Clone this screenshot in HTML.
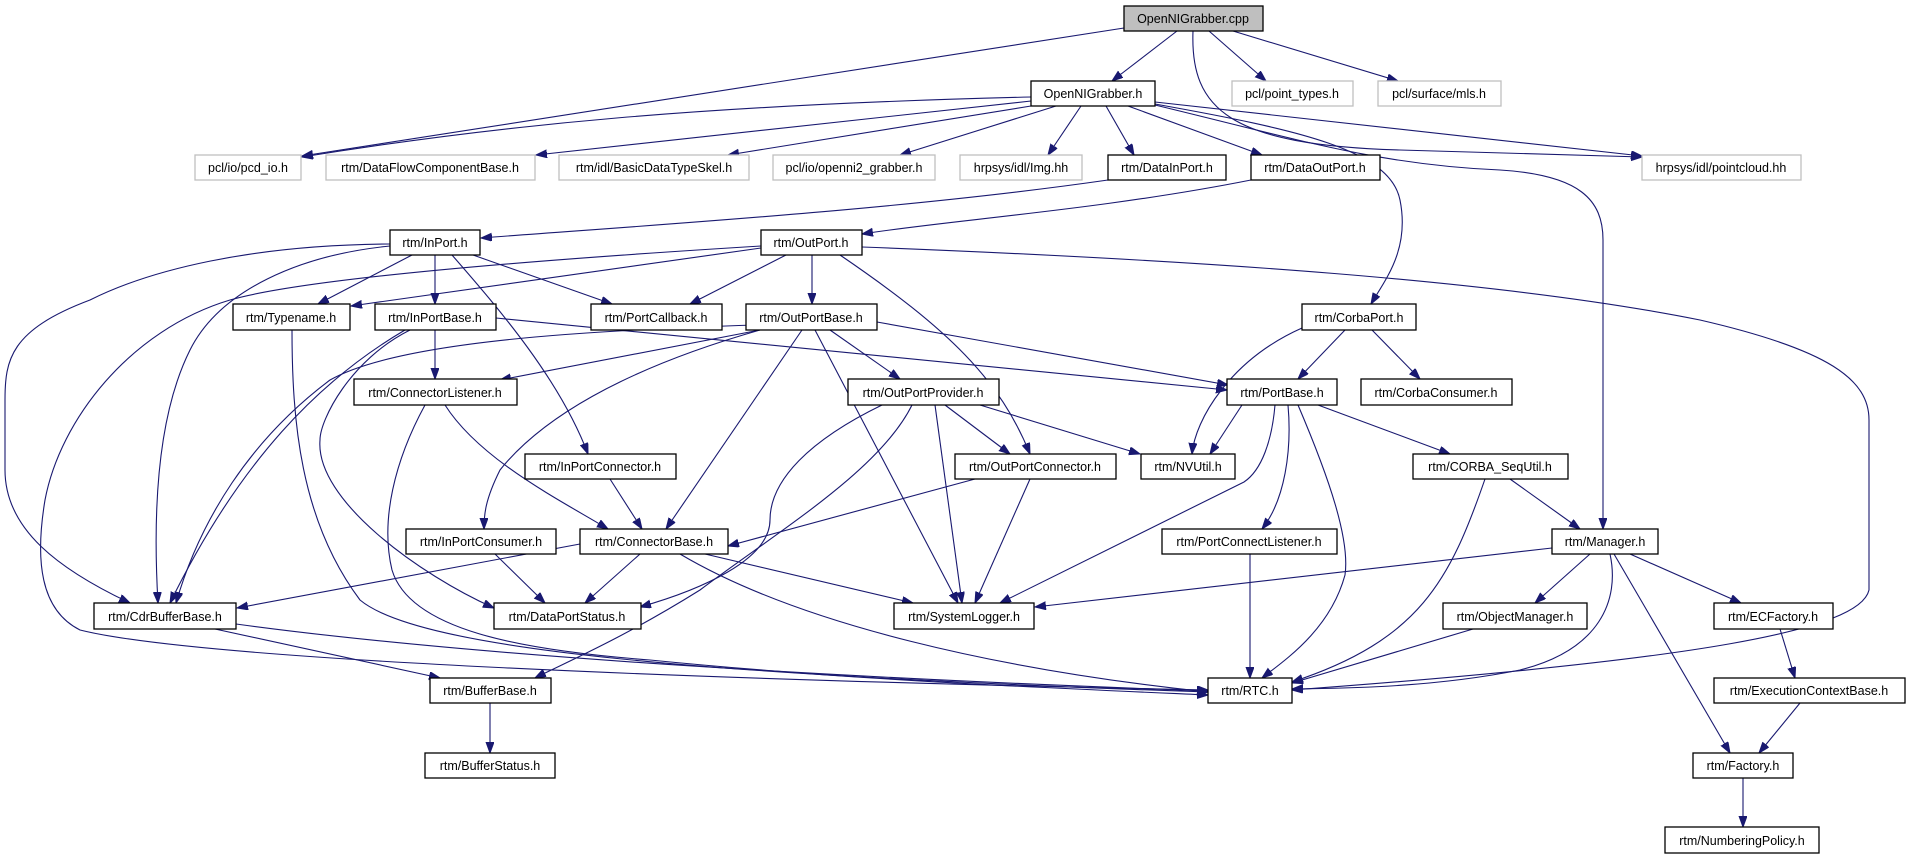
<!DOCTYPE html>
<html><head><meta charset="utf-8"><style>
html,body{margin:0;padding:0;background:#fff;}
svg{display:block;}
text{font-family:"Liberation Sans",sans-serif;font-size:12.5px;fill:#000;text-anchor:middle;}
.n{fill:#fff;stroke:#000;stroke-width:1.3;}
.g{fill:#fff;stroke:#bfbfbf;stroke-width:1.3;}
.e{fill:none;stroke:#191970;stroke-width:1.1;marker-end:url(#a);}
</style></head><body>
<svg width="1908" height="859" viewBox="0 0 1908 859" xmlns="http://www.w3.org/2000/svg">
<defs><marker id="a" markerUnits="userSpaceOnUse" markerWidth="12" markerHeight="10" refX="11" refY="4" orient="auto"><path d="M0,0 L11,4 L0,8 z" fill="#191970" stroke="#191970"/></marker></defs>
<g>
<path class="e" d="M1124,28 L302,156"/>
<path class="e" d="M1177,31 L1112,81"/>
<path class="e" d="M1209,31 L1266,81"/>
<path class="e" d="M1233,31 L1398,81"/>
<path class="e" d="M1193,31 C1190,110 1230,145 1400,150 L1642,157"/>
<path class="e" d="M1031,97 C700,105 500,125 302,157"/>
<path class="e" d="M1031,101 L536,155"/>
<path class="e" d="M1031,106 L728,155"/>
<path class="e" d="M1056,106 L900,155"/>
<path class="e" d="M1081,106 L1048,155"/>
<path class="e" d="M1106,106 L1134,155"/>
<path class="e" d="M1128,106 L1262,155"/>
<path class="e" d="M1155,102 L1642,156"/>
<path class="e" d="M1155,104 C1300,130 1390,150 1400,200 C1410,250 1385,280 1371,304"/>
<path class="e" d="M1155,105 C1300,140 1380,165 1500,170 C1580,175 1603,200 1603,240 L1603,529"/>
<path class="e" d="M1108,180 C900,210 650,225 481,238"/>
<path class="e" d="M1251,180 C1100,210 950,220 862,234"/>
<path class="e" d="M412,255 L318,304"/>
<path class="e" d="M435,255 L435,304"/>
<path class="e" d="M473,255 L612,304"/>
<path class="e" d="M452,255 C500,310 560,380 588,454"/>
<path class="e" d="M390,244 C250,245 150,270 90,300 C10,330 5,360 5,400 L5,470 C5,530 60,570 130,603"/>
<path class="e" d="M390,246 C300,255 220,290 190,350 C160,410 152,500 158,603"/>
<path class="e" d="M761,248 L351,306"/>
<path class="e" d="M786,255 L690,304"/>
<path class="e" d="M812,255 L812,304"/>
<path class="e" d="M840,255 C950,330 1000,380 1030,454"/>
<path class="e" d="M862,247 C1200,260 1500,280 1700,320 C1830,350 1869,380 1869,420 L1869,590 C1860,630 1700,660 1292,690"/>
<path class="e" d="M761,246 C500,262 300,280 230,300 C130,330 60,420 45,500 C35,560 40,610 80,630 C200,660 700,680 1208,690"/>
<path class="e" d="M292,330 C292,420 300,520 360,600 C420,650 700,675 1208,692"/>
<path class="e" d="M435,330 L435,379"/>
<path class="e" d="M496,318 L1227,390"/>
<path class="e" d="M405,330 C320,380 240,460 170,603"/>
<path class="e" d="M410,330 C350,360 320,420 320,440 C315,500 420,575 494,608"/>
<path class="e" d="M760,330 L500,380"/>
<path class="e" d="M755,325 C600,330 400,340 330,380 C250,440 200,520 176,603"/>
<path class="e" d="M760,330 C620,370 540,420 500,470 C485,500 484,515 484,529"/>
<path class="e" d="M802,330 L666,529"/>
<path class="e" d="M815,330 L958,603"/>
<path class="e" d="M830,330 L900,379"/>
<path class="e" d="M877,322 L1228,385"/>
<path class="e" d="M445,405 C480,460 560,500 608,529"/>
<path class="e" d="M425,405 C395,460 380,520 392,570 C410,630 520,650 650,660 C850,680 1050,688 1208,695"/>
<path class="e" d="M610,479 L642,529"/>
<path class="e" d="M495,554 L545,603"/>
<path class="e" d="M580,544 L237,608"/>
<path class="e" d="M640,554 L585,603"/>
<path class="e" d="M705,554 L913,603"/>
<path class="e" d="M680,554 C800,625 1000,670 1208,692"/>
<path class="e" d="M945,405 L1010,454"/>
<path class="e" d="M980,405 L1140,454"/>
<path class="e" d="M935,405 L962,603"/>
<path class="e" d="M882,405 C810,440 770,480 770,520 C770,560 700,590 640,607"/>
<path class="e" d="M912,405 C880,470 780,530 700,590 C620,640 560,665 535,678"/>
<path class="e" d="M975,479 L728,546"/>
<path class="e" d="M1030,479 L975,603"/>
<path class="e" d="M1345,330 L1298,379"/>
<path class="e" d="M1372,330 L1420,379"/>
<path class="e" d="M1302,328 C1230,360 1195,420 1192,454"/>
<path class="e" d="M1242,405 L1210,454"/>
<path class="e" d="M1275,405 C1272,440 1262,470 1244,482 L1000,603"/>
<path class="e" d="M1288,405 C1292,450 1285,500 1262,529"/>
<path class="e" d="M1298,405 C1330,480 1350,540 1345,575 C1330,630 1285,660 1262,678"/>
<path class="e" d="M1318,405 L1450,454"/>
<path class="e" d="M1510,479 L1580,529"/>
<path class="e" d="M1485,479 C1450,580 1420,640 1292,682"/>
<path class="e" d="M1250,554 L1250,678"/>
<path class="e" d="M1552,548 L1035,607"/>
<path class="e" d="M1590,554 L1535,603"/>
<path class="e" d="M1630,554 L1741,603"/>
<path class="e" d="M1610,554 C1620,600 1600,650 1520,670 C1420,690 1320,688 1292,689"/>
<path class="e" d="M1614,554 L1730,753"/>
<path class="e" d="M1473,629 L1292,683"/>
<path class="e" d="M1780,629 L1795,678"/>
<path class="e" d="M1800,703 L1759,753"/>
<path class="e" d="M1743,778 L1743,827"/>
<path class="e" d="M490,703 L490,753"/>
<path class="e" d="M215,629 L440,678"/>
<path class="e" d="M236,624 C500,660 900,680 1208,691"/>
</g>
<g>
<rect x="1124" y="6" width="139" height="25" fill="#bfbfbf" stroke="#000" stroke-width="1.3"/><text x="1193" y="23">OpenNIGrabber.cpp</text>
<rect class="n" x="1031" y="81" width="124" height="25"/><text x="1093" y="98">OpenNIGrabber.h</text>
<rect class="g" x="1232" y="81" width="121" height="25"/><text x="1292" y="98">pcl/point_types.h</text>
<rect class="g" x="1378" y="81" width="123" height="25"/><text x="1439" y="98">pcl/surface/mls.h</text>
<rect class="g" x="195" y="155" width="106" height="25"/><text x="248" y="172">pcl/io/pcd_io.h</text>
<rect class="g" x="326" y="155" width="209" height="25"/><text x="430" y="172">rtm/DataFlowComponentBase.h</text>
<rect class="g" x="559" y="155" width="190" height="25"/><text x="654" y="172">rtm/idl/BasicDataTypeSkel.h</text>
<rect class="g" x="773" y="155" width="162" height="25"/><text x="854" y="172">pcl/io/openni2_grabber.h</text>
<rect class="g" x="960" y="155" width="122" height="25"/><text x="1021" y="172">hrpsys/idl/Img.hh</text>
<rect class="n" x="1108" y="155" width="118" height="25"/><text x="1167" y="172">rtm/DataInPort.h</text>
<rect class="n" x="1251" y="155" width="129" height="25"/><text x="1315" y="172">rtm/DataOutPort.h</text>
<rect class="g" x="1642" y="155" width="159" height="25"/><text x="1721" y="172">hrpsys/idl/pointcloud.hh</text>
<rect class="n" x="390" y="230" width="90" height="25"/><text x="435" y="247">rtm/InPort.h</text>
<rect class="n" x="761" y="230" width="101" height="25"/><text x="811" y="247">rtm/OutPort.h</text>
<rect class="n" x="233" y="304" width="117" height="26"/><text x="291" y="322">rtm/Typename.h</text>
<rect class="n" x="375" y="304" width="121" height="26"/><text x="435" y="322">rtm/InPortBase.h</text>
<rect class="n" x="591" y="304" width="131" height="26"/><text x="656" y="322">rtm/PortCallback.h</text>
<rect class="n" x="746" y="304" width="131" height="26"/><text x="811" y="322">rtm/OutPortBase.h</text>
<rect class="n" x="1302" y="304" width="114" height="26"/><text x="1359" y="322">rtm/CorbaPort.h</text>
<rect class="n" x="354" y="379" width="163" height="26"/><text x="435" y="397">rtm/ConnectorListener.h</text>
<rect class="n" x="848" y="379" width="151" height="26"/><text x="923" y="397">rtm/OutPortProvider.h</text>
<rect class="n" x="1227" y="379" width="110" height="26"/><text x="1282" y="397">rtm/PortBase.h</text>
<rect class="n" x="1361" y="379" width="151" height="26"/><text x="1436" y="397">rtm/CorbaConsumer.h</text>
<rect class="n" x="525" y="454" width="151" height="25"/><text x="600" y="471">rtm/InPortConnector.h</text>
<rect class="n" x="955" y="454" width="161" height="25"/><text x="1035" y="471">rtm/OutPortConnector.h</text>
<rect class="n" x="1141" y="454" width="94" height="25"/><text x="1188" y="471">rtm/NVUtil.h</text>
<rect class="n" x="1413" y="454" width="155" height="25"/><text x="1490" y="471">rtm/CORBA_SeqUtil.h</text>
<rect class="n" x="406" y="529" width="150" height="25"/><text x="481" y="546">rtm/InPortConsumer.h</text>
<rect class="n" x="580" y="529" width="148" height="25"/><text x="654" y="546">rtm/ConnectorBase.h</text>
<rect class="n" x="1162" y="529" width="175" height="25"/><text x="1249" y="546">rtm/PortConnectListener.h</text>
<rect class="n" x="1552" y="529" width="106" height="25"/><text x="1605" y="546">rtm/Manager.h</text>
<rect class="n" x="94" y="603" width="142" height="26"/><text x="165" y="621">rtm/CdrBufferBase.h</text>
<rect class="n" x="494" y="603" width="147" height="26"/><text x="567" y="621">rtm/DataPortStatus.h</text>
<rect class="n" x="894" y="603" width="140" height="26"/><text x="964" y="621">rtm/SystemLogger.h</text>
<rect class="n" x="1443" y="603" width="144" height="26"/><text x="1515" y="621">rtm/ObjectManager.h</text>
<rect class="n" x="1714" y="603" width="119" height="26"/><text x="1773" y="621">rtm/ECFactory.h</text>
<rect class="n" x="430" y="678" width="121" height="25"/><text x="490" y="695">rtm/BufferBase.h</text>
<rect class="n" x="1208" y="678" width="84" height="25"/><text x="1250" y="695">rtm/RTC.h</text>
<rect class="n" x="1714" y="678" width="191" height="25"/><text x="1809" y="695">rtm/ExecutionContextBase.h</text>
<rect class="n" x="425" y="753" width="130" height="25"/><text x="490" y="770">rtm/BufferStatus.h</text>
<rect class="n" x="1693" y="753" width="100" height="25"/><text x="1743" y="770">rtm/Factory.h</text>
<rect class="n" x="1665" y="827" width="154" height="26"/><text x="1742" y="845">rtm/NumberingPolicy.h</text>
</g>
</svg>
</body></html>
